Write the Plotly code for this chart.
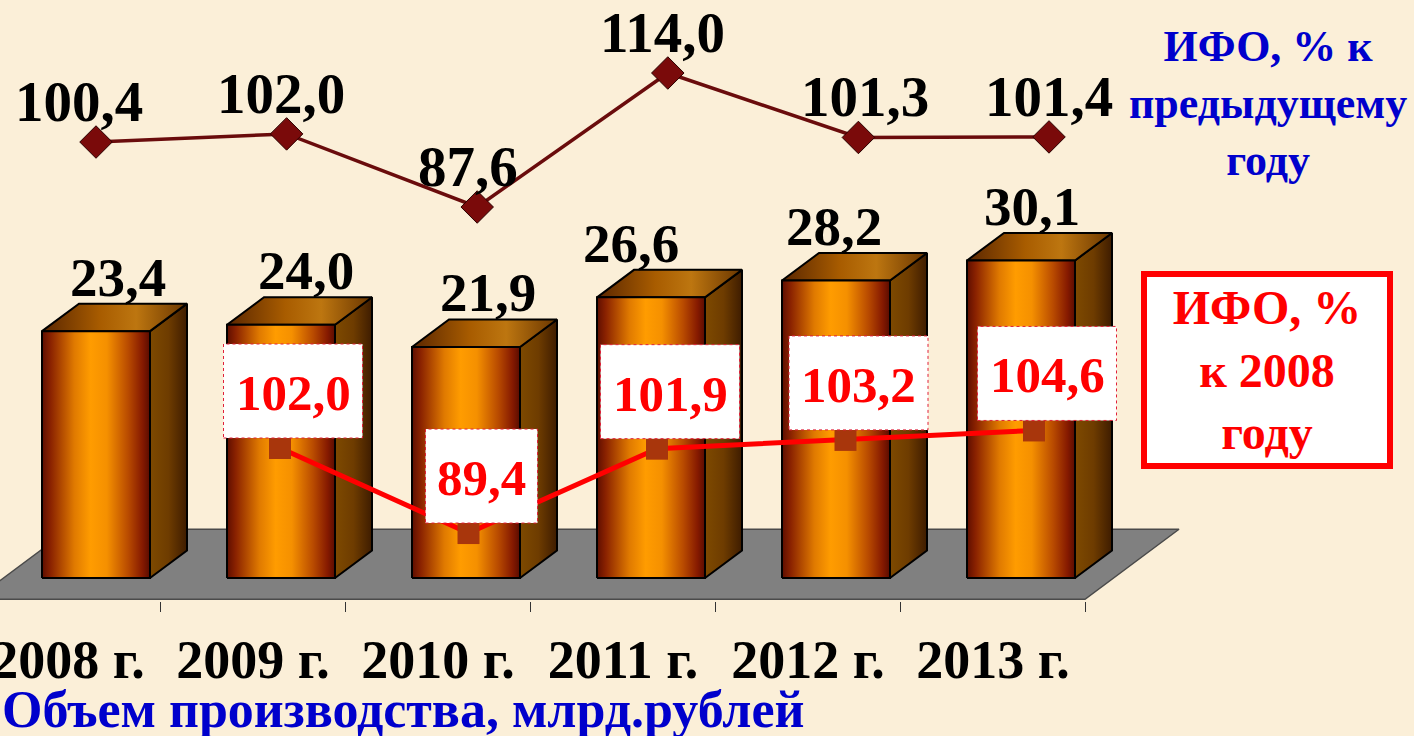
import plotly.graph_objects as go

# ---------------- data ----------------
years = ["2008 г.", "2009 г.", "2010 г.", "2011 г.", "2012 г.", "2013 г."]
volume = [23.4, 24.0, 21.9, 26.6, 28.2, 30.1]               # млрд. рублей
ifo_prev = [100.4, 102.0, 87.6, 114.0, 101.3, 101.4]        # % к предыдущему году
ifo_2008_years = ["2009 г.", "2010 г.", "2011 г.", "2012 г.", "2013 г."]
ifo_2008 = [102.0, 89.4, 101.9, 103.2, 104.6]               # % к 2008 году


def fmt(v):
    return f"{v:.1f}".replace(".", ",")


# ---------------- geometry / style ----------------
W, H = 1414, 736
FONT = "Liberation Serif, Times New Roman, serif"
BG = "#FBEFD8"

# label nudges in pixels (style only)
bar_label_dx = [3, 6, 3, -39, -21, -8]
up_label_dx = [-17, -6, -9, -5, 7, 0]

# bar plane (front faces)
bar_step, bar_first, bar_zero, bar_k = 185.0, 96.0, 578.0, 10.55
x1_r0 = -bar_first / bar_step
x1_range = [x1_r0, x1_r0 + W / bar_step]
y1_range = [-(H - bar_zero) / bar_k, bar_zero / bar_k]

half_w = 108.0 / bar_step / 2
ddx, ddy = 37.0 / bar_step, 27.5 / bar_k           # bar depth
fdx, fdy = 94.0 / bar_step, 70.0 / bar_k           # floor depth
gx, gy = (fdx - ddx) / 2, (fdy - ddy) / 2          # gap in front of bars

# upper line plane
up_step, up_first = 190.6, 96.0
up_k = 134.0 / 26.4
x2_r0 = -up_first / up_step
x2_range = [x2_r0, x2_r0 + W / up_step]
y2_range = [87.6 - (H - 207) / up_k, 87.6 + 207 / up_k]

# lower line plane
lo_step, lo_first = 188.5, 91.5
lo_k = 6.75
x3_r0 = -lo_first / lo_step
x3_range = [x3_r0, x3_r0 + W / lo_step]
y3_range = [102.0 - (H - 448) / lo_k, 102.0 + 448 / lo_k]

# category-label axis (floor front edge)
cat_first, axis_y_px = 68.0, 601.0
x4_r0 = -cat_first / bar_step
x4_range = [x4_r0, x4_r0 + W / bar_step]

front_cs = [[0, "#5E0E00"], [0.08, "#8A2200"], [0.3, "#E07A00"], [0.45, "#FF9C00"],
            [0.6, "#F59000"], [0.8, "#B84A00"], [0.93, "#861A00"], [1, "#5A0C00"]]
side_cs = [[0, "#7E4A00"], [0.5, "#6E3C00"], [1, "#3E1C00"]]
top_cs = [[0, "#5A2600"], [0.4, "#A85C00"], [0.65, "#BD7610"], [1, "#6A3600"]]

fig = go.Figure()

# floor
fl_x0 = -0.5 - gx
fl_x1 = len(years) - 0.5 - gx
fl_y = -gy
fig.add_trace(go.Scatter(
    x=[fl_x0, fl_x1, fl_x1 + fdx, fl_x0 + fdx, fl_x0],
    y=[fl_y, fl_y, fl_y + fdy, fl_y + fdy, fl_y],
    fill="toself", fillcolor="#808080", mode="lines",
    line=dict(color="#4A4A4A", width=1.5), hoverinfo="skip",
    xaxis="x", yaxis="y"))

# 3D bars
for i, v in enumerate(volume):
    xl, xr = i - half_w, i + half_w
    fig.add_trace(go.Scatter(
        x=[xr, xr + ddx, xr + ddx, xr, xr],
        y=[0, ddy, v + ddy, v, 0],
        fill="toself", fillgradient=dict(type="horizontal", colorscale=side_cs),
        mode="lines", line=dict(color="#000000", width=2), hoverinfo="skip"))
    fig.add_trace(go.Scatter(
        x=[xl, xr, xr + ddx, xl + ddx, xl],
        y=[v, v, v + ddy, v + ddy, v],
        fill="toself", fillgradient=dict(type="horizontal", colorscale=top_cs),
        mode="lines", line=dict(color="#000000", width=2), hoverinfo="skip"))
    fig.add_trace(go.Scatter(
        x=[xl, xr, xr, xl, xl],
        y=[0, 0, v, v, 0],
        fill="toself", fillgradient=dict(type="horizontal", colorscale=front_cs),
        mode="lines", line=dict(color="#000000", width=2), hoverinfo="skip",
        name=years[i]))

# category axis carrier
fig.add_trace(go.Scatter(x=years, y=[None] * len(years), xaxis="x4", yaxis="y",
                         mode="markers", hoverinfo="skip"))

# upper line: ИФО % к предыдущему году
up_x = list(range(len(years)))
fig.add_trace(go.Scatter(
    x=up_x, y=ifo_prev, xaxis="x2", yaxis="y2",
    mode="lines+markers",
    line=dict(color="#6A0C0C", width=3.5),
    marker=dict(symbol="diamond", size=25, color="#7A0A0A",
                line=dict(color="#2A0000", width=1)),
    hoverinfo="skip"))

# lower line: ИФО % к 2008 году
lo_x = [years.index(y) for y in ifo_2008_years]
fig.add_trace(go.Scatter(
    x=lo_x, y=ifo_2008, xaxis="x3", yaxis="y3",
    mode="lines+markers",
    line=dict(color="#FF0000", width=5),
    marker=dict(symbol="square", size=22, color="#A8360C", line=dict(width=0)),
    hoverinfo="skip"))

annotations = []
shapes = []

# bar value labels
for i, v in enumerate(volume):
    annotations.append(dict(
        x=i + ddx / 2, y=v + ddy, xref="x", yref="y", text=fmt(v),
        showarrow=False, yanchor="bottom", yshift=-6, xshift=bar_label_dx[i],
        font=dict(family=FONT, size=55, color="#000000", weight="bold")))

# upper line labels
for xv, v, dx in zip(up_x, ifo_prev, up_label_dx):
    annotations.append(dict(
        x=xv, y=v, xref="x2", yref="y2", text=fmt(v),
        showarrow=False, yanchor="bottom", yshift=7, xshift=dx,
        font=dict(family=FONT, size=57, color="#000000", weight="bold")))

# lower-line labels in dotted white boxes
for xv, v in zip(lo_x, ifo_2008):
    t = fmt(v)
    bw = 27 * len(t) + 4
    shapes.append(dict(
        type="rect", xref="x3", yref="y3", xsizemode="pixel", ysizemode="pixel",
        xanchor=xv, yanchor=v, x0=13 - bw / 2, x1=13 + bw / 2, y0=57 - 47, y1=57 + 47,
        fillcolor="#FFFFFF", line=dict(color="#E0203A", width=1, dash="dot"),
        layer="above"))
    annotations.append(dict(
        x=xv, y=v, xref="x3", yref="y3", text=t, showarrow=False,
        xshift=13, yshift=55, xanchor="center", yanchor="middle",
        font=dict(family=FONT, size=51, color="#FF0000", weight="bold")))

# top-right blue caption
annotations.append(dict(
    x=1268 / W, y=1 - 103 / H, xref="paper", yref="paper",
    text="ИФО, % к<br>предыдущему<br>году", showarrow=False,
    xanchor="center", yanchor="middle", align="center",
    font=dict(family=FONT, size=44, color="#0000CC", weight="bold")))

# red framed caption
annotations.append(dict(
    x=1267 / W, y=1 - 370 / H, xref="paper", yref="paper",
    text="ИФО, %<br>к 2008<br>году", showarrow=False,
    xanchor="center", yanchor="middle", align="center",
    width=240, height=186, borderpad=0,
    bgcolor="#FFFFFF", bordercolor="#FF0000", borderwidth=6,
    font=dict(family=FONT, size=48, color="#FF0000", weight="bold")))

# bottom title
annotations.append(dict(
    x=0, y=1 - 709 / H, xref="paper", yref="paper",
    text="Объем производства, млрд.рублей", showarrow=False,
    xanchor="left", yanchor="middle",
    font=dict(family=FONT, size=52, color="#0000CC", weight="bold")))

hidden = dict(visible=False, showgrid=False, zeroline=False, fixedrange=True,
              automargin=False)

fig.update_layout(
    width=W, height=H, autosize=False,
    margin=dict(l=0, r=0, t=0, b=0, pad=0, autoexpand=False),
    paper_bgcolor=BG, plot_bgcolor="rgba(0,0,0,0)",
    showlegend=False,
    xaxis=dict(range=x1_range, domain=[0, 1], **hidden),
    yaxis=dict(range=y1_range, domain=[0, 1], **hidden),
    xaxis2=dict(range=x2_range, overlaying="x", anchor="y2", **hidden),
    yaxis2=dict(range=y2_range, overlaying="y", anchor="x2", **hidden),
    xaxis3=dict(range=x3_range, overlaying="x", anchor="y3", **hidden),
    yaxis3=dict(range=y3_range, overlaying="y", anchor="x3", **hidden),
    xaxis4=dict(
        type="category", categoryorder="array", categoryarray=years,
        range=x4_range, anchor="free", position=(H - axis_y_px) / H, overlaying="x",
        showline=False, automargin=False,
        ticks="outside", tickson="boundaries", ticklen=10, tickcolor="#333333",
        tickwidth=1, ticklabelstandoff=22, showgrid=False, zeroline=False,
        tickfont=dict(family=FONT, size=54, color="#000000", weight="bold"),
        fixedrange=True),
    annotations=annotations,
    shapes=shapes,
)

fig.write_html("out.html", config={"displayModeBar": False, "staticPlot": True},
               post_script="document.body.style.margin='0';document.body.style.overflow='hidden';")
